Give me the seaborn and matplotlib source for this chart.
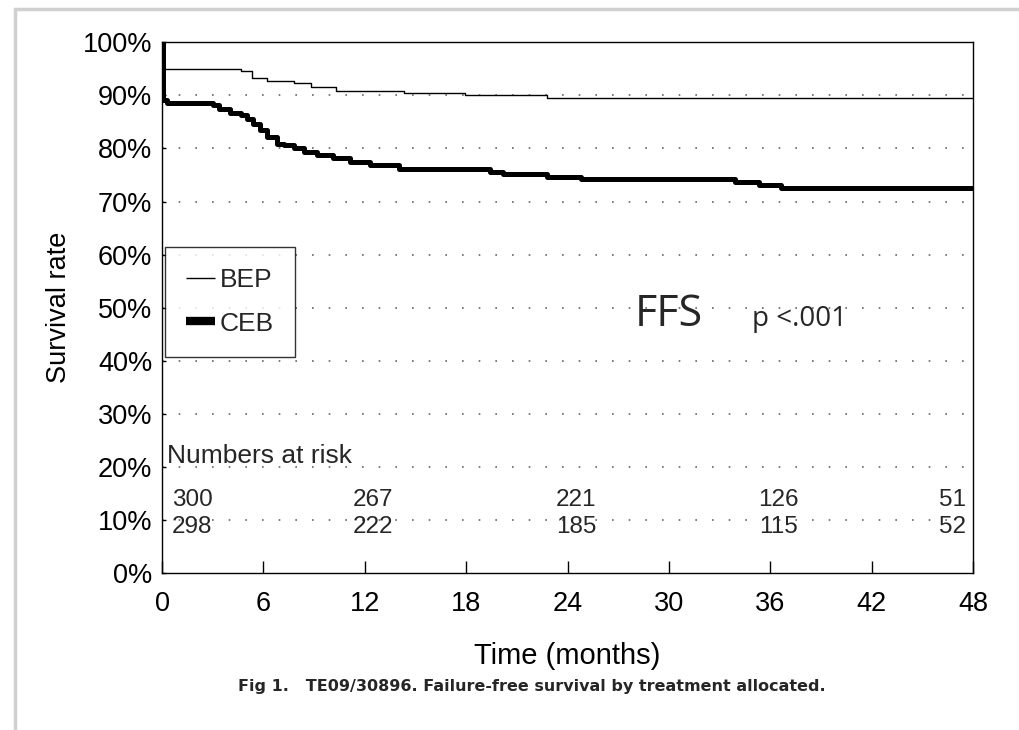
import matplotlib
matplotlib.use("Agg")
import matplotlib.pyplot as plt
import matplotlib.ticker as mticker
from matplotlib.patches import Rectangle
import pandas as pd
import seaborn as sns

# Kaplan-Meier step points (months, % failure-free)
bep_time = [0, 0.05, 4.7, 5.3, 6.2, 7.8, 8.8, 10.3, 14.3, 17.9, 22.8, 48]
bep_surv = [100, 95.0, 94.6, 93.2, 92.8, 92.3, 91.6, 90.8, 90.5, 90.0, 89.6, 89.6]

ceb_time = [0, 0.05, 0.3, 3.0, 3.4, 4.0, 4.7, 5.0, 5.4, 5.8, 6.2, 6.8, 7.2, 7.8,
            8.4, 9.2, 10.1, 11.1, 12.3, 14.0, 19.4, 20.2, 22.8, 24.8, 33.9, 35.3,
            36.6, 48]
ceb_surv = [100, 89.1, 88.6, 88.1, 87.5, 86.7, 86.3, 85.6, 84.7, 83.4, 82.2, 80.9,
            80.6, 80.0, 79.3, 78.7, 78.2, 77.5, 76.8, 76.2, 75.6, 75.1, 74.6, 74.3,
            73.7, 73.2, 72.6, 72.6]

risk_times = [0, 12, 24, 36, 48]
risk_bep = [300, 267, 221, 126, 51]
risk_ceb = [298, 222, 185, 115, 52]

df = pd.concat([
    pd.DataFrame({"time": bep_time, "surv": bep_surv, "arm": "BEP"}),
    pd.DataFrame({"time": ceb_time, "surv": ceb_surv, "arm": "CEB"}),
])

sns.set_theme(style="white")
plt.rcParams["font.family"] = ["Liberation Sans", "DejaVu Sans"]

fig = plt.figure(figsize=(10.19, 7.3), dpi=100)
ax = fig.add_axes([0.159, 0.215, 0.796, 0.727])

sns.lineplot(data=df[df.arm == "BEP"], x="time", y="surv", ax=ax, color="black",
             linewidth=1.0, drawstyle="steps-post", estimator=None, sort=False,
             label="BEP")
sns.lineplot(data=df[df.arm == "CEB"], x="time", y="surv", ax=ax, color="black",
             linewidth=3.6, drawstyle="steps-post", estimator=None, sort=False,
             label="CEB")

ax.set_xlim(0, 48)
ax.set_ylim(0, 100)
ax.set_xticks(range(0, 49, 6))
ax.set_yticks(range(0, 101, 10))
ax.yaxis.set_major_formatter(mticker.FuncFormatter(lambda v, p: f"{int(v)}%"))
ax.tick_params(axis="x", direction="in", length=9, width=1, bottom=True,
               labelsize=19.5, pad=13, colors="black")
ax.tick_params(axis="y", direction="in", length=3, width=1, left=True,
               labelsize=19.5, pad=7, colors="black")
for s in ax.spines.values():
    s.set_color("black")
    s.set_linewidth(1.0)

for g in range(10, 100, 10):
    ax.axhline(g, color="#666666", linestyle=(0, (1, 9)), linewidth=1.2, zorder=0)

ax.set_xlabel("Time (months)", fontsize=21, labelpad=18, color="black")
ax.set_ylabel("Survival rate", fontsize=19.5, labelpad=8, color="black")

leg = ax.legend(loc="upper left", bbox_to_anchor=(0.0, 0.62), fontsize=19,
                frameon=True, fancybox=False, edgecolor="black", handlelength=1.1,
                handletextpad=0.2, borderpad=0.8, labelspacing=0.75,
                borderaxespad=0.1)
leg.get_frame().set_linewidth(1.0)
leg.get_lines()[1].set_linewidth(6)
for ln in leg.get_lines():
    ln.set_solid_capstyle("butt")

ax.text(0.3, 22.0, "Numbers at risk", fontsize=19, ha="left", va="center")
for i, t in enumerate(risk_times):
    if i == 0:
        x, ha = 0.6, "left"
    elif i == len(risk_times) - 1:
        x, ha = 47.6, "right"
    else:
        x, ha = t + 0.5, "center"
    ax.text(x, 13.8, str(risk_bep[i]), fontsize=17.5, ha=ha, va="center")
    ax.text(x, 8.6, str(risk_ceb[i]), fontsize=17.5, ha=ha, va="center")

ax.text(30.0, 46.6, "FFS", fontsize=31, ha="center", va="baseline",
        family=["Open Sans", "DejaVu Sans"])
ax.text(34.9, 46.6, "p <.001", fontsize=20, ha="left", va="baseline",
        family=["Open Sans", "DejaVu Sans"])

fig.text(0.522, 0.06, "Fig 1.   TE09/30896. Failure-free survival by treatment allocated.",
         fontsize=11.5, fontweight="bold", ha="center", va="center",
         family=["Liberation Sans Narrow", "DejaVu Sans"])

# scanned page edge
fig.patches.append(Rectangle((15 / 1019, -0.01), 1.2, 1 - 9 / 730 + 0.01,
                             transform=fig.transFigure, fill=False,
                             edgecolor="#d0d0d0", linewidth=2.5))

fig.savefig("out.png", dpi=100)
